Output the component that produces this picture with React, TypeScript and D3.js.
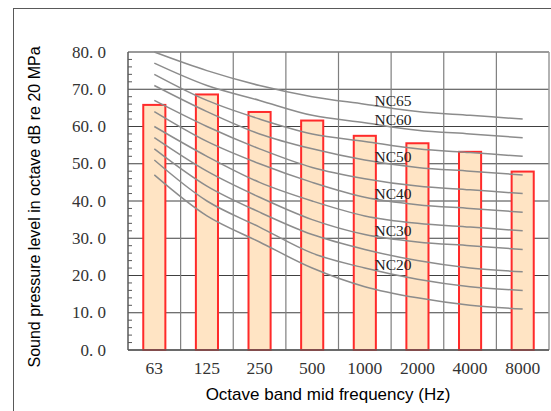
import React from "react";
import * as d3 from "d3";

const categories = ["63", "125", "250", "500", "1000", "2000", "4000", "8000"];
const measured = [65.8, 68.6, 63.9, 61.6, 57.5, 55.5, 53.2, 47.9];

const ncNames = ["NC15", "NC20", "NC25", "NC30", "NC35", "NC40", "NC45", "NC50", "NC55", "NC60", "NC65"];
const nc15 = [47, 36, 29, 22, 17, 14, 12, 11];
const nc20 = [51, 40, 33, 26, 22, 19, 17, 16];
const nc25 = [54, 44, 37, 31, 27, 24, 22, 21];
const nc30 = [57, 48, 41, 35, 31, 29, 28, 27];
const nc35 = [60, 52, 45, 40, 36, 34, 33, 32];
const nc40 = [64, 56, 50, 45, 41, 39, 38, 37];
const nc45 = [67, 60, 54, 49, 46, 44, 43, 42];
const nc50 = [71, 64, 58, 54, 51, 49, 48, 47];
const nc55 = [74, 67, 62, 58, 56, 54, 53, 52];
const nc60 = [77, 71, 67, 63, 61, 59, 58, 57];
const nc65 = [80, 75, 71, 68, 66, 64, 63, 62];
const ncCurves = [nc15, nc20, nc25, nc30, nc35, nc40, nc45, nc50, nc55, nc60, nc65];
const labelled = ["NC20", "NC30", "NC40", "NC50", "NC60", "NC65"];

const yTicks = [0, 10, 20, 30, 40, 50, 60, 70, 80];

export default function App() {
  const W = 551, H = 411;
  const left = 128, right = 549, top = 52, bottom = 350;
  const x = d3.scaleBand<string>().domain(categories).range([left, right]);
  const y = d3.scaleLinear().domain([0, 80]).range([bottom, top]);
  const bw = x.bandwidth();
  const barW = bw * 0.42;
  const cx = (c: string) => (x(c) as number) + bw / 2;

  const line = d3
    .line<number>()
    .x((_, i) => cx(categories[i]))
    .y((d) => y(d))
    .curve(d3.curveCatmullRom.alpha(0.5));

  const minor = d3.range(0, 81, 2).filter((v) => v % 10 !== 0);
  const serif = "'Liberation Serif', 'DejaVu Serif', serif";
  const sans = "'Liberation Sans', Arial, sans-serif";

  return (
    <svg width={W} height={H} style={{ position: "absolute", left: 0, top: 0 }}>
      <rect x={0} y={0} width={W} height={H} fill="#fff" />
      {/* outer chart frame */}
      <line x1={13} y1={8.5} x2={W} y2={8.5} stroke="#595959" strokeWidth={1} />
      <line x1={13.5} y1={8} x2={13.5} y2={H} stroke="#595959" strokeWidth={1} />

      {/* horizontal grid */}
      {yTicks.map((t) => (
        <line key={"h" + t} x1={left} x2={right} y1={y(t)} y2={y(t)} stroke={t === 80 ? "#9a9a9a" : "#404040"} strokeWidth={t === 80 ? 2 : 1} />
      ))}
      {/* vertical grid at category boundaries */}
      {categories.slice(1).map((c) => (
        <line key={"v" + c} x1={x(c) as number} x2={x(c) as number} y1={top} y2={bottom} stroke="#7f7f7f" strokeWidth={1.2} />
      ))}
      <line x1={right} x2={right} y1={top} y2={bottom} stroke="#9a9a9a" strokeWidth={1.5} />

      {/* bars */}
      {measured.map((v, i) => (
        <rect
          key={"b" + i}
          x={cx(categories[i]) - barW / 2}
          y={y(v)}
          width={barW}
          height={bottom - y(v)}
          fill="#FFE4C4"
          stroke="#ff2a2a"
          strokeWidth={2}
        />
      ))}

      {/* NC curves */}
      {ncCurves.map((vals, k) => (
        <path key={"nc" + k} d={line(vals) as string} fill="none" stroke="#8c8c8c" strokeWidth={1.5} />
      ))}

      {/* NC labels */}
      {ncNames.map((name, k) =>
        labelled.includes(name) ? (
          <text
            key={"l" + name}
            x={393}
            y={y(ncCurves[k][4] + 1)}
            dominantBaseline="central"
            textAnchor="middle"
            fontFamily={serif}
            fontSize={15.5}
            fill="#222"
          >
            {name}
          </text>
        ) : null
      )}

      {/* y axis */}
      <line x1={left} x2={left} y1={top} y2={bottom} stroke="#595959" strokeWidth={1.5} />
      <line x1={left} x2={right} y1={bottom} y2={bottom} stroke="#595959" strokeWidth={1.5} />
      {minor.map((m) => (
        <line key={"m" + m} x1={left} x2={left + 4} y1={y(m)} y2={y(m)} stroke="#595959" strokeWidth={1} />
      ))}
      {yTicks.map((t) => (
        <text key={"yt" + t} x={106} y={y(t)} dominantBaseline="central" textAnchor="end" fontFamily={serif} fontSize={17} fill="#333">
          {t.toFixed(1).replace(".", ". ")}
        </text>
      ))}
      {categories.map((c) => (
        <text key={"xt" + c} x={cx(c)} y={374} textAnchor="middle" fontFamily={serif} fontSize={17.5} fill="#333">
          {c}
        </text>
      ))}

      <text x={328} y={400} textAnchor="middle" fontFamily={sans} fontSize={17} fill="#000">
        Octave band mid frequency (Hz)
      </text>
      <text
        transform={`translate(40, 207) rotate(-90)`}
        textAnchor="middle"
        fontFamily={sans}
        fontSize={16}
        fill="#000"
      >
        Sound pressure level in octave dB re 20 MPa
      </text>
    </svg>
  );
}
